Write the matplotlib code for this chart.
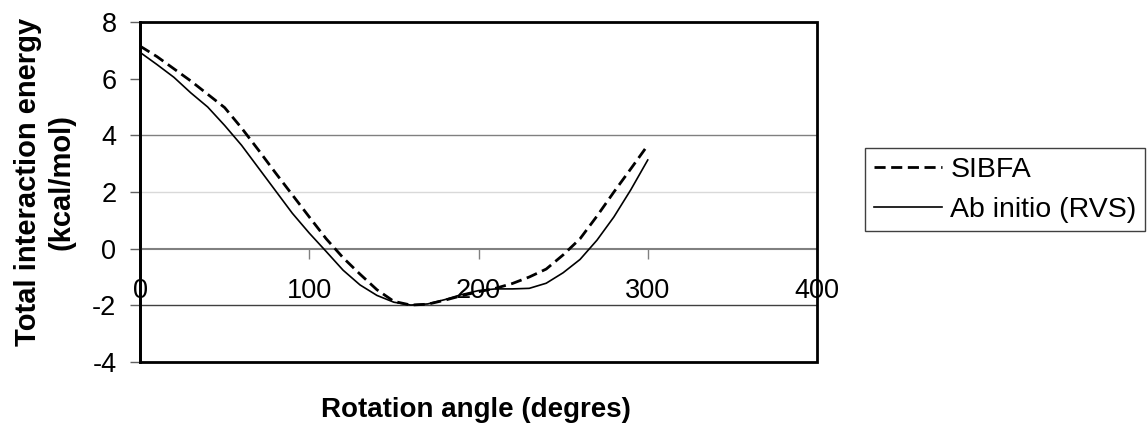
import numpy as np
import matplotlib
matplotlib.use("Agg")
import matplotlib.pyplot as plt
from matplotlib.patches import Rectangle

plt.rcParams['font.family'] = ['Liberation Sans', 'DejaVu Sans']

# rotation angle (degrees)
angle = [0, 10, 20, 30, 40, 50, 60, 70, 80, 90, 100, 110, 120, 130, 140, 150,
         160, 170, 180, 190, 200, 210, 220, 230, 240, 250, 260, 270, 280, 290, 300]

# total interaction energy (kcal/mol)
sibfa = [7.15, 6.78, 6.35, 5.92, 5.45, 4.98, 4.26, 3.48, 2.68, 1.90, 1.12, 0.35,
         -0.32, -0.90, -1.45, -1.86, -1.99, -1.96, -1.82, -1.66, -1.52, -1.40,
         -1.23, -1.00, -0.72, -0.22, 0.35, 1.15, 2.00, 2.82, 3.65]
ab_initio = [6.93, 6.50, 6.05, 5.50, 5.00, 4.35, 3.65, 2.85, 2.05, 1.25, 0.55, -0.10,
             -0.76, -1.28, -1.65, -1.89, -1.99, -1.95, -1.80, -1.62, -1.48, -1.42,
             -1.42, -1.40, -1.22, -0.85, -0.38, 0.30, 1.12, 2.08, 3.13]

xticks = [0, 100, 200, 300, 400]
yticks = [-4, -2, 0, 2, 4, 6, 8]
# horizontal grid lines as they show in the picture (none at 6)
grid_y = [4, 2, -2]
grid_c = ['#808080', '#d9d9d9', '#404040']

fig = plt.figure(figsize=(11.48, 4.29), dpi=100)
ax = fig.add_axes([140/1148, 1-362/429, 677/1148, 340/429])

for gy, gc in zip(grid_y, grid_c):
    ax.axhline(gy, color=gc, linewidth=1, zorder=1)

l1, = ax.plot(angle, sibfa, color='black', linewidth=2.0, linestyle=(0, (4, 2)),
              label='SIBFA', zorder=3)
l2, = ax.plot(angle, ab_initio, color='black', linewidth=1.2, label='Ab initio (RVS)',
              zorder=3)

ax.set_xlim(0, 400)
ax.set_ylim(-4, 8)
ax.set_xticks(xticks)
ax.set_yticks(yticks)
ax.set_xticklabels([str(v) for v in xticks])
ax.set_yticklabels([str(v) for v in yticks])

# x axis crosses at y = 0, frame drawn separately
for s in ['top', 'right']:
    ax.spines[s].set_visible(False)
ax.spines['bottom'].set_position(('data', 0))
ax.spines['bottom'].set_color('#808080')
ax.spines['bottom'].set_linewidth(1.5)
ax.spines['left'].set_linewidth(2)
ax.add_patch(Rectangle((0, 0), 1, 1, transform=ax.transAxes, fill=False,
                       edgecolor='black', linewidth=2, zorder=4, clip_on=False))

ax.tick_params(axis='x', direction='out', length=7, width=1, color='#808080',
               pad=14, labelsize=19.5)
ax.tick_params(axis='y', direction='out', length=7, width=1, color='#606060',
               pad=10, labelsize=19.5)

ax.set_ylabel('Total interaction energy\n(kcal/mol)', fontsize=21, fontweight='bold',
              linespacing=1.25)
ax.yaxis.set_label_coords(-0.096, 0.53)
fig.text(476/1148, 1-410/429, 'Rotation angle (degres)', fontsize=20,
         fontweight='bold', ha='center', va='center')

fig.legend(handles=[l1, l2], loc='upper left', bbox_to_anchor=(865/1148, 1-148/429),
           fontsize=20.5, frameon=True, fancybox=False, edgecolor='#404040',
           handlelength=2.4, handletextpad=0.3, labelspacing=0.5, borderpad=0.3,
           borderaxespad=0, framealpha=1)

fig.savefig('out.png', dpi=100)
